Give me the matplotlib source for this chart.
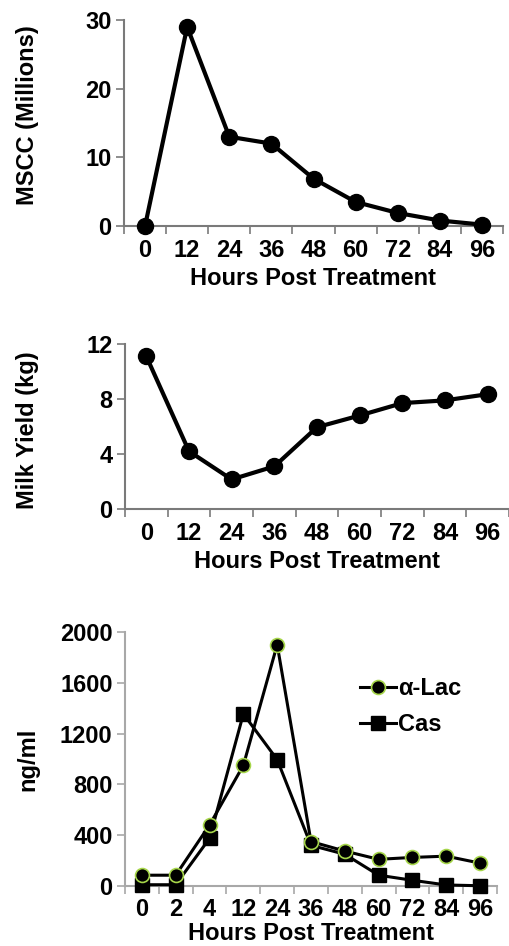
import matplotlib
matplotlib.use("Agg")
import matplotlib.pyplot as plt
import numpy as np

plt.rcParams['font.family'] = ['Liberation Sans', 'DejaVu Sans']
plt.rcParams['font.weight'] = 'bold'

# panel 1 + 2: hours post treatment
hours = ["0", "12", "24", "36", "48", "60", "72", "84", "96"]
mscc = [0, 29, 13, 12, 6.9, 3.5, 1.9, 0.8, 0.2]
milk_yield = [11.1, 4.2, 2.15, 3.1, 5.95, 6.8, 7.7, 7.9, 8.35]

# panel 3
hours_ng = ["0", "2", "4", "12", "24", "36", "48", "60", "72", "84", "96"]
alpha_lac = [85, 85, 480, 950, 1900, 350, 275, 210, 225, 235, 180]
casein = [10, 10, 375, 1355, 995, 320, 250, 85, 45, 8, 2]

FS = 17


def style_axis(ax, labels, ylim, yticks, axcolor, xpad=4):
    n = len(labels)
    x = np.arange(n)
    ax.set_xlim(-0.5, n - 0.5)
    ax.set_ylim(*ylim)
    ax.set_xticks(x)
    ax.set_xticklabels(labels, fontsize=FS, fontweight='bold')
    ax.set_xticks(np.arange(-0.5, n), minor=True)
    ax.tick_params(axis='x', which='major', length=0, pad=9)
    ax.tick_params(axis='x', which='minor', length=6, width=1.2, color=axcolor, direction='out')
    ax.set_yticks(yticks)
    ax.set_yticklabels([str(t) for t in yticks], fontsize=FS, fontweight='bold')
    ax.tick_params(axis='y', length=6, width=1.2, color=axcolor, direction='out', pad=3)
    for s in ['top', 'right']:
        ax.spines[s].set_visible(False)
    for s in ['left', 'bottom']:
        ax.spines[s].set_color(axcolor)
        ax.spines[s].set_linewidth(1.5)
    ax.set_xlabel("Hours Post Treatment", fontsize=FS, fontweight='bold', labelpad=xpad)
    return x


fig = plt.figure(figsize=(5.09, 9.46), dpi=100)
W, H = 509.0, 946.0

ax1 = fig.add_axes([124 / W, 1 - 226 / H, 379 / W, 206 / H])
x = style_axis(ax1, hours, (0, 30), [0, 10, 20, 30], "#7a7a7a")
ax1.plot(x, mscc, color='black', lw=3, marker='o', ms=11.5, clip_on=False, zorder=5)
ax1.set_ylabel("MSCC (Millions)", fontsize=FS, fontweight='bold')
ax1.yaxis.set_label_coords(-85 / 379, 0.54)

ax2 = fig.add_axes([125 / W, 1 - 509 / H, 384 / W, 165 / H])
x = style_axis(ax2, hours, (0, 12), [0, 4, 8, 12], "#7a7a7a")
ax2.plot(x, milk_yield, color='black', lw=3, marker='o', ms=11.5, clip_on=False, zorder=5)
ax2.set_ylabel("Milk Yield (kg)", fontsize=FS, fontweight='bold')
ax2.yaxis.set_label_coords(-86 / 384, 0.48)

ax3 = fig.add_axes([125 / W, 1 - 886 / H, 372 / W, 254 / H])
x = style_axis(ax3, hours_ng, (0, 2000), [0, 400, 800, 1200, 1600, 2000], "#a8a8a8", xpad=0)
ax3.plot(x, alpha_lac, color='black', lw=2.2, marker='o', ms=10, mfc='black',
         mec='#a6d64a', mew=1.2, clip_on=False, zorder=5, label="α-Lac")
ax3.plot(x, casein, color='black', lw=2.2, marker='s', ms=10, clip_on=False, zorder=4, label="Cas")
ax3.set_ylabel("ng/ml", fontsize=FS, fontweight='bold')
ax3.yaxis.set_label_coords(-86 / 372, 0.5)
ax3.legend(loc='upper left', bbox_to_anchor=(226 / 372, 0.86), frameon=False,
           handlelength=1.5, handletextpad=0.1, labelspacing=0.55,
           borderaxespad=0, prop={'weight': 'bold', 'size': FS})

fig.savefig("out.png", dpi=100)
